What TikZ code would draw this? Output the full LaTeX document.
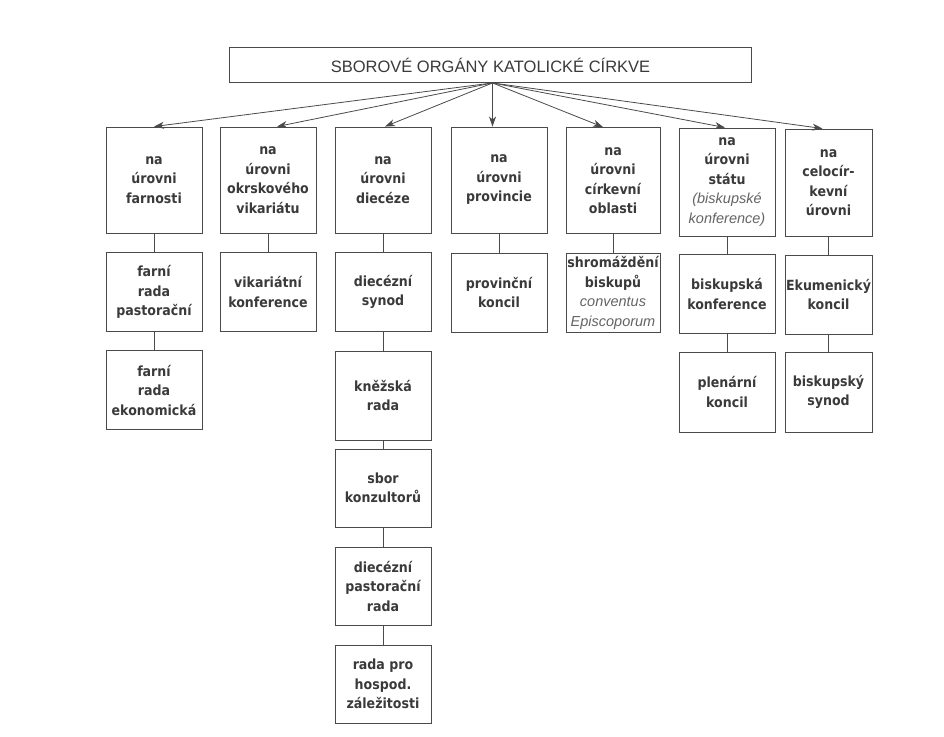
\documentclass[tikz,border=0pt]{standalone}
\usepackage{fontspec}
\setmainfont{DejaVu Sans Condensed}
\newfontfamily\titlefont{Liberation Sans}
\newfontfamily\itfont{Liberation Sans}
\usetikzlibrary{arrows.meta,calc}
\definecolor{ink}{HTML}{3A3A3A}
\definecolor{soft}{HTML}{646464}
\definecolor{edge}{HTML}{4A4A4A}
\tikzset{
  box/.style={draw=edge, line width=0.9pt, text=ink, align=center, inner sep=0pt,
    font=\fontsize{14}{19.5}\selectfont\bfseries},
  titlebox/.style={draw=edge, line width=0.9pt, text=ink, inner sep=0pt,
    font=\titlefont\fontsize{16.5}{19}\selectfont},
  arr/.style={draw=edge, line width=0.8pt, -{Stealth[length=10pt,width=7pt,inset=3pt]}},
  link/.style={draw=edge, line width=0.8pt}
}
\newcommand{\itl}[1]{{\itfont\mdseries\itshape\fontsize{14.5}{18}\selectfont\color{soft}#1}}
\begin{document}
\begin{tikzpicture}[x=1pt,y=-1pt]
\useasboundingbox (0,0) rectangle (944,736);
\fill[white] (0,0) rectangle (944,736);

\node[titlebox, minimum width=522pt, minimum height=35pt] (t) at (490.5,65) {SBOROVÉ ORGÁNY KATOLICKÉ CÍRKVE};

% row 1
\node[box, minimum width=96pt, minimum height=106pt] (a1) at (154,180) {na\\úrovni\\farnosti};
\node[box, minimum width=96pt, minimum height=106pt] (a2) at (268,180) {na\\úrovni\\okrskového\\vikariátu};
\node[box, minimum width=96pt, minimum height=106pt] (a3) at (383,180) {na\\úrovni\\diecéze};
\node[box, minimum width=96pt, minimum height=106pt] (a4) at (499,180) {na\\úrovni\\provincie};
\node[box, minimum width=94pt, minimum height=106pt] (a5) at (613,180.5) {na\\úrovni\\církevní\\oblasti};
\node[box, minimum width=96pt, minimum height=108pt] (a6) at (727,182) {na\\úrovni\\státu\\\itl{(biskupské}\\\itl{konference)}};
\node[box, minimum width=87pt, minimum height=107pt] (a7) at (828.5,182.5) {na\\celocír-\\kevní\\úrovni};

% row 2
\node[box, minimum width=96pt, minimum height=79pt] (b1) at (154,292) {farní\\rada\\pastorační};
\node[box, minimum width=96pt, minimum height=79pt] (b2) at (268,292) {vikariátní\\konference};
\node[box, minimum width=96pt, minimum height=79pt] (b3) at (383,292) {diecézní\\synod};
\node[box, minimum width=96pt, minimum height=79pt] (b4) at (499,292.5) {provinční\\koncil};
\node[box, minimum width=94pt, minimum height=79pt] (b5) at (613,293) {shromáždění\\biskupů\\\itl{conventus}\\\itl{Episcoporum}};
\node[box, minimum width=96pt, minimum height=79pt] (b6) at (727,294) {biskupská\\konference};
\node[box, minimum width=87pt, minimum height=79pt] (b7) at (828.5,294.5) {Ekumenický\\koncil};

% row 3 and below
\node[box, minimum width=96pt, minimum height=79pt] (c1) at (154,390) {farní\\rada\\ekonomická};
\node[box, minimum width=96pt, minimum height=89pt] (c3) at (383,395.5) {kněžská\\rada};
\node[box, minimum width=96pt, minimum height=80pt] (c6) at (727,392) {plenární\\koncil};
\node[box, minimum width=87pt, minimum height=80pt] (c7) at (828.5,392) {biskupský\\synod};
\node[box, minimum width=96pt, minimum height=78pt] (d3) at (383,488) {sbor\\konzultorů};
\node[box, minimum width=96pt, minimum height=78pt] (e3) at (383,586) {diecézní\\pastorační\\rada};
\node[box, minimum width=96pt, minimum height=78pt] (f3) at (383,684) {rada pro\\hospod.\\záležitosti};

% arrows from title
\coordinate (o) at ([xshift=2pt]t.south);
\draw[arr] (o) -- (a1.north);
\draw[arr] (o) -- ([xshift=9pt]a2.north);
\draw[arr] (o) -- ([xshift=2pt]a3.north);
\draw[arr] (o) -- (o |- a4.north);
\draw[arr] (o) -- ([xshift=-10pt]a5.north);
\draw[arr] (o) -- ([xshift=-2pt]a6.north);
\draw[arr] (o) -- ([xshift=-6pt]a7.north);

% vertical links
\draw[link] (a1) -- (b1);
\draw[link] (b1) -- (c1);
\draw[link] (a2) -- (b2);
\draw[link] (a3) -- (b3);
\draw[link] (b3) -- (c3);
\draw[link] (c3) -- (d3);
\draw[link] (d3) -- (e3);
\draw[link] (e3) -- (f3);
\draw[link] (a4) -- (b4);
\draw[link] (a5) -- (b5);
\draw[link] (a6) -- (b6);
\draw[link] (b6) -- (c6);
\draw[link] (a7) -- (b7);
\draw[link] (b7) -- (c7);
\end{tikzpicture}
\end{document}
